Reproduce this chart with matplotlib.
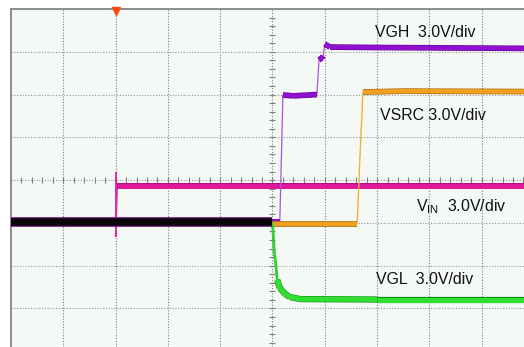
import matplotlib.pyplot as plt
import numpy as np
from matplotlib.collections import LineCollection

# scope screen in divisions (time div, volt div), crop shows part of it
x_lim = (0, 9.81)
y_lim = (-3.9, 4.0)
px_x = 52.3   # pixels per div
px_y = 42.8

# common ground trace before power up (all channels overlap)
gnd_t = [0, 4.99]
gnd_v = [-0.98, -0.98]

vin_t = [0, 2.0, 2.0, 2.0, 2.03, 9.81]
vin_v = [-0.98, -0.98, 0.19, -1.33, -0.14, -0.14]

vgh_t = [0, 5.14, 5.2, 5.4, 5.85, 5.89, 5.95, 5.97, 6.0, 6.1, 7.0, 9.81]
vgh_v = [-0.98, -0.98, 1.99, 1.97, 2.0, 2.81, 2.86, 2.9, 3.18, 3.11, 3.1, 3.08]

vsrc_t = [4.99, 6.62, 6.67, 6.73, 7.5, 9.81]
vsrc_v = [-1.02, -1.02, 0.46, 2.06, 2.08, 2.07]

vgl_t = [4.99, 5.01, 5.03, 5.07, 5.09, 5.14, 5.24, 5.33, 5.53, 7.0, 9.81]
vgl_v = [-0.98, -1.16, -1.63, -2.05, -2.33, -2.52, -2.66, -2.73, -2.78, -2.79, -2.79]

labels = ['VGH  3.0V/div', 'VSRC 3.0V/div', r'V$_{\mathregular{IN}}$  3.0V/div', 'VGL  3.0V/div']
label_xy = [(6.96, 3.44), (7.06, 1.52), (7.74, -0.62), (6.98, -2.33)]


def trace(ax, t, v, color, dark, edge, lw, thin=0.9):
    pts = np.column_stack([t, v])
    segs = np.stack([pts[:-1], pts[1:]], axis=1)
    dx = np.abs(np.diff(t)) * px_x
    dy = np.abs(np.diff(v)) * px_y
    steep = dy > 3 * dx + 1
    flat = segs[~steep]
    ax.add_collection(LineCollection(segs[steep], colors=edge, linewidths=thin,
                                     capstyle='butt', zorder=3))
    ax.add_collection(LineCollection(flat, colors=dark, linewidths=lw + 0.9,
                                     capstyle='butt', joinstyle='round', zorder=3))
    ax.add_collection(LineCollection(flat, colors=color, linewidths=lw,
                                     capstyle='butt', joinstyle='round', zorder=3))


fig = plt.figure(figsize=(5.24, 3.47), dpi=100)
ax = fig.add_axes([11 / 524, 0, 513 / 524, 338 / 347])
ax.set_facecolor('#f5f9f6')
ax.set_xlim(*x_lim)
ax.set_ylim(*y_lim)

for i in range(1, 10):
    ax.axvline(i, color='#808080', ls=(0, (1, 1.5)), lw=0.8, zorder=1)
for j in range(-3, 4):
    ax.axhline(j, color='#989898', ls=(0, (1, 1.5)), lw=0.8, zorder=1)

# center graticule ticks
ax.plot(np.arange(0, 10, 0.2), np.zeros(50), ls='none', marker='|',
        color='#808080', ms=4, mew=0.8, zorder=1)
ax.plot(np.full(40, 5.0), np.arange(-4, 4, 0.2), ls='none', marker='_',
        color='#808080', ms=5, mew=0.8, zorder=1)

trace(ax, vin_t, vin_v, '#e0189c', '#b0107a', '#e02aa0', 3.4, thin=1.2)
trace(ax, vgh_t, vgh_v, '#9010d0', '#68009a', '#b050e0', 3.2)
trace(ax, vsrc_t, vsrc_v, '#f0a020', '#a86800', '#f0b040', 3.2, thin=1.0)
trace(ax, vgl_t, vgl_v, '#30e030', '#109010', '#30d030', 3.6, thin=2.0)
ax.plot(gnd_t, gnd_v, color='#7a1090', lw=7.0, solid_capstyle='butt', zorder=4)
ax.plot(gnd_t, gnd_v, color='#080808', lw=5.4, solid_capstyle='butt', zorder=4)

# trigger position marker
ax.plot([2.0], [3.96], marker='v', color='#ff4a10', ms=6, clip_on=False, zorder=5)

for s, (x, y) in zip(labels, label_xy):
    ax.text(x, y, s, fontsize=11.4, family='Liberation Sans', color='#111111',
            va='center', ha='left', zorder=6)

for side in ['right', 'bottom']:
    ax.spines[side].set_visible(False)
for side in ['left', 'top']:
    ax.spines[side].set_color('#8c8c8c')
    ax.spines[side].set_linewidth(1.4)
ax.set_xticks([])
ax.set_yticks([])

fig.savefig('out.png', dpi=100)
